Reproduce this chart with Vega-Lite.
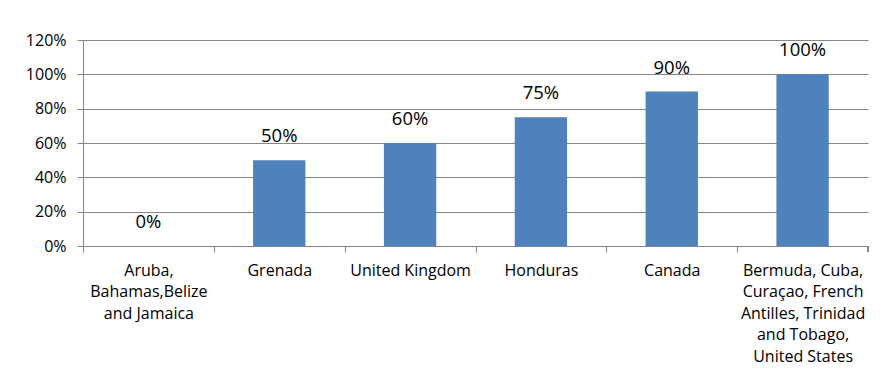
{
  "$schema": "https://vega.github.io/schema/vega-lite/v6.json",
  "width": 785,
  "height": 206,
  "autosize": {"type": "none"},
  "padding": {"left": 83, "top": 40, "right": 24, "bottom": 137},
  "background": "white",
  "config": {
    "view": {"stroke": null},
    "font": "Open Sans",
    "axisY": {
      "labelOverlap": false, "labelFlush": false,
      "labelFont": "Open Sans", "labelFontSize": 16,
      "labelColor": "#000000", "labelPadding": 11,
      "domainColor": "#868686", "tickColor": "#868686", "tickSize": 6,
      "gridColor": "#868686", "gridWidth": 1, "grid": true, "gridOpacity": 1
    },
    "axisX": {
      "labelAngle": 0,
      "labelFont": "Open Sans", "labelFontSize": 16, "labelColor": "#000000",
      "labelLineHeight": 21.5, "labelPadding": 10,
      "domainColor": "#868686", "tickColor": "#868686", "tickSize": 6,
      "labelLimit": 300, "labelOverlap": false
    }
  },
  "data": {
    "values": [
      {"country": "Aruba,|Bahamas,Belize|and Jamaica", "share": 0.0},
      {"country": "Grenada", "share": 0.5},
      {"country": "United Kingdom", "share": 0.6},
      {"country": "Honduras", "share": 0.75},
      {"country": "Canada", "share": 0.9},
      {"country": "Bermuda, Cuba,|Curaçao, French|Antilles, Trinidad|and Tobago,|United States", "share": 1.0}
    ]
  },
  "layer": [
    {
      "mark": {"type": "bar", "color": "#4F81BD"},
      "encoding": {
        "x": {
          "field": "country", "type": "nominal", "sort": null,
          "scale": {"paddingInner": 0.6, "paddingOuter": 0.3},
          "axis": {
            "title": null,
            "tickOffset": -65.4,
            "labelOffset": 65.4,
            "labelExpr": "split(datum.label, '|')"
          }
        },
        "y": {
          "field": "share", "type": "quantitative",
          "scale": {"domain": [0, 1.2], "nice": false},
          "axis": {"title": null, "values": [0, 0.2, 0.4, 0.6, 0.8, 1, 1.2], "tickCount": 7, "format": ".0%"}
        }
      }
    },
    {
      "mark": {"type": "rule", "color": "#868686", "y2Offset": 6},
      "encoding": {
        "x": {"datum": "Bermuda, Cuba,|Curaçao, French|Antilles, Trinidad|and Tobago,|United States", "type": "nominal", "bandPosition": 1.75},
        "y": {"datum": 0, "type": "quantitative"},
        "y2": {"datum": 0}
      }
    },
    {
      "mark": {"type": "text", "dy": -18, "baseline": "alphabetic", "fontSize": 18.5, "font": "Open Sans", "color": "#000000"},
      "encoding": {
        "x": {"field": "country", "type": "nominal", "sort": null},
        "y": {"field": "share", "type": "quantitative", "axis": {"title": null, "values": [0, 0.2, 0.4, 0.6, 0.8, 1, 1.2], "tickCount": 7, "format": ".0%"}},
        "text": {"field": "share", "type": "quantitative", "format": ".0%"}
      }
    }
  ]
}
